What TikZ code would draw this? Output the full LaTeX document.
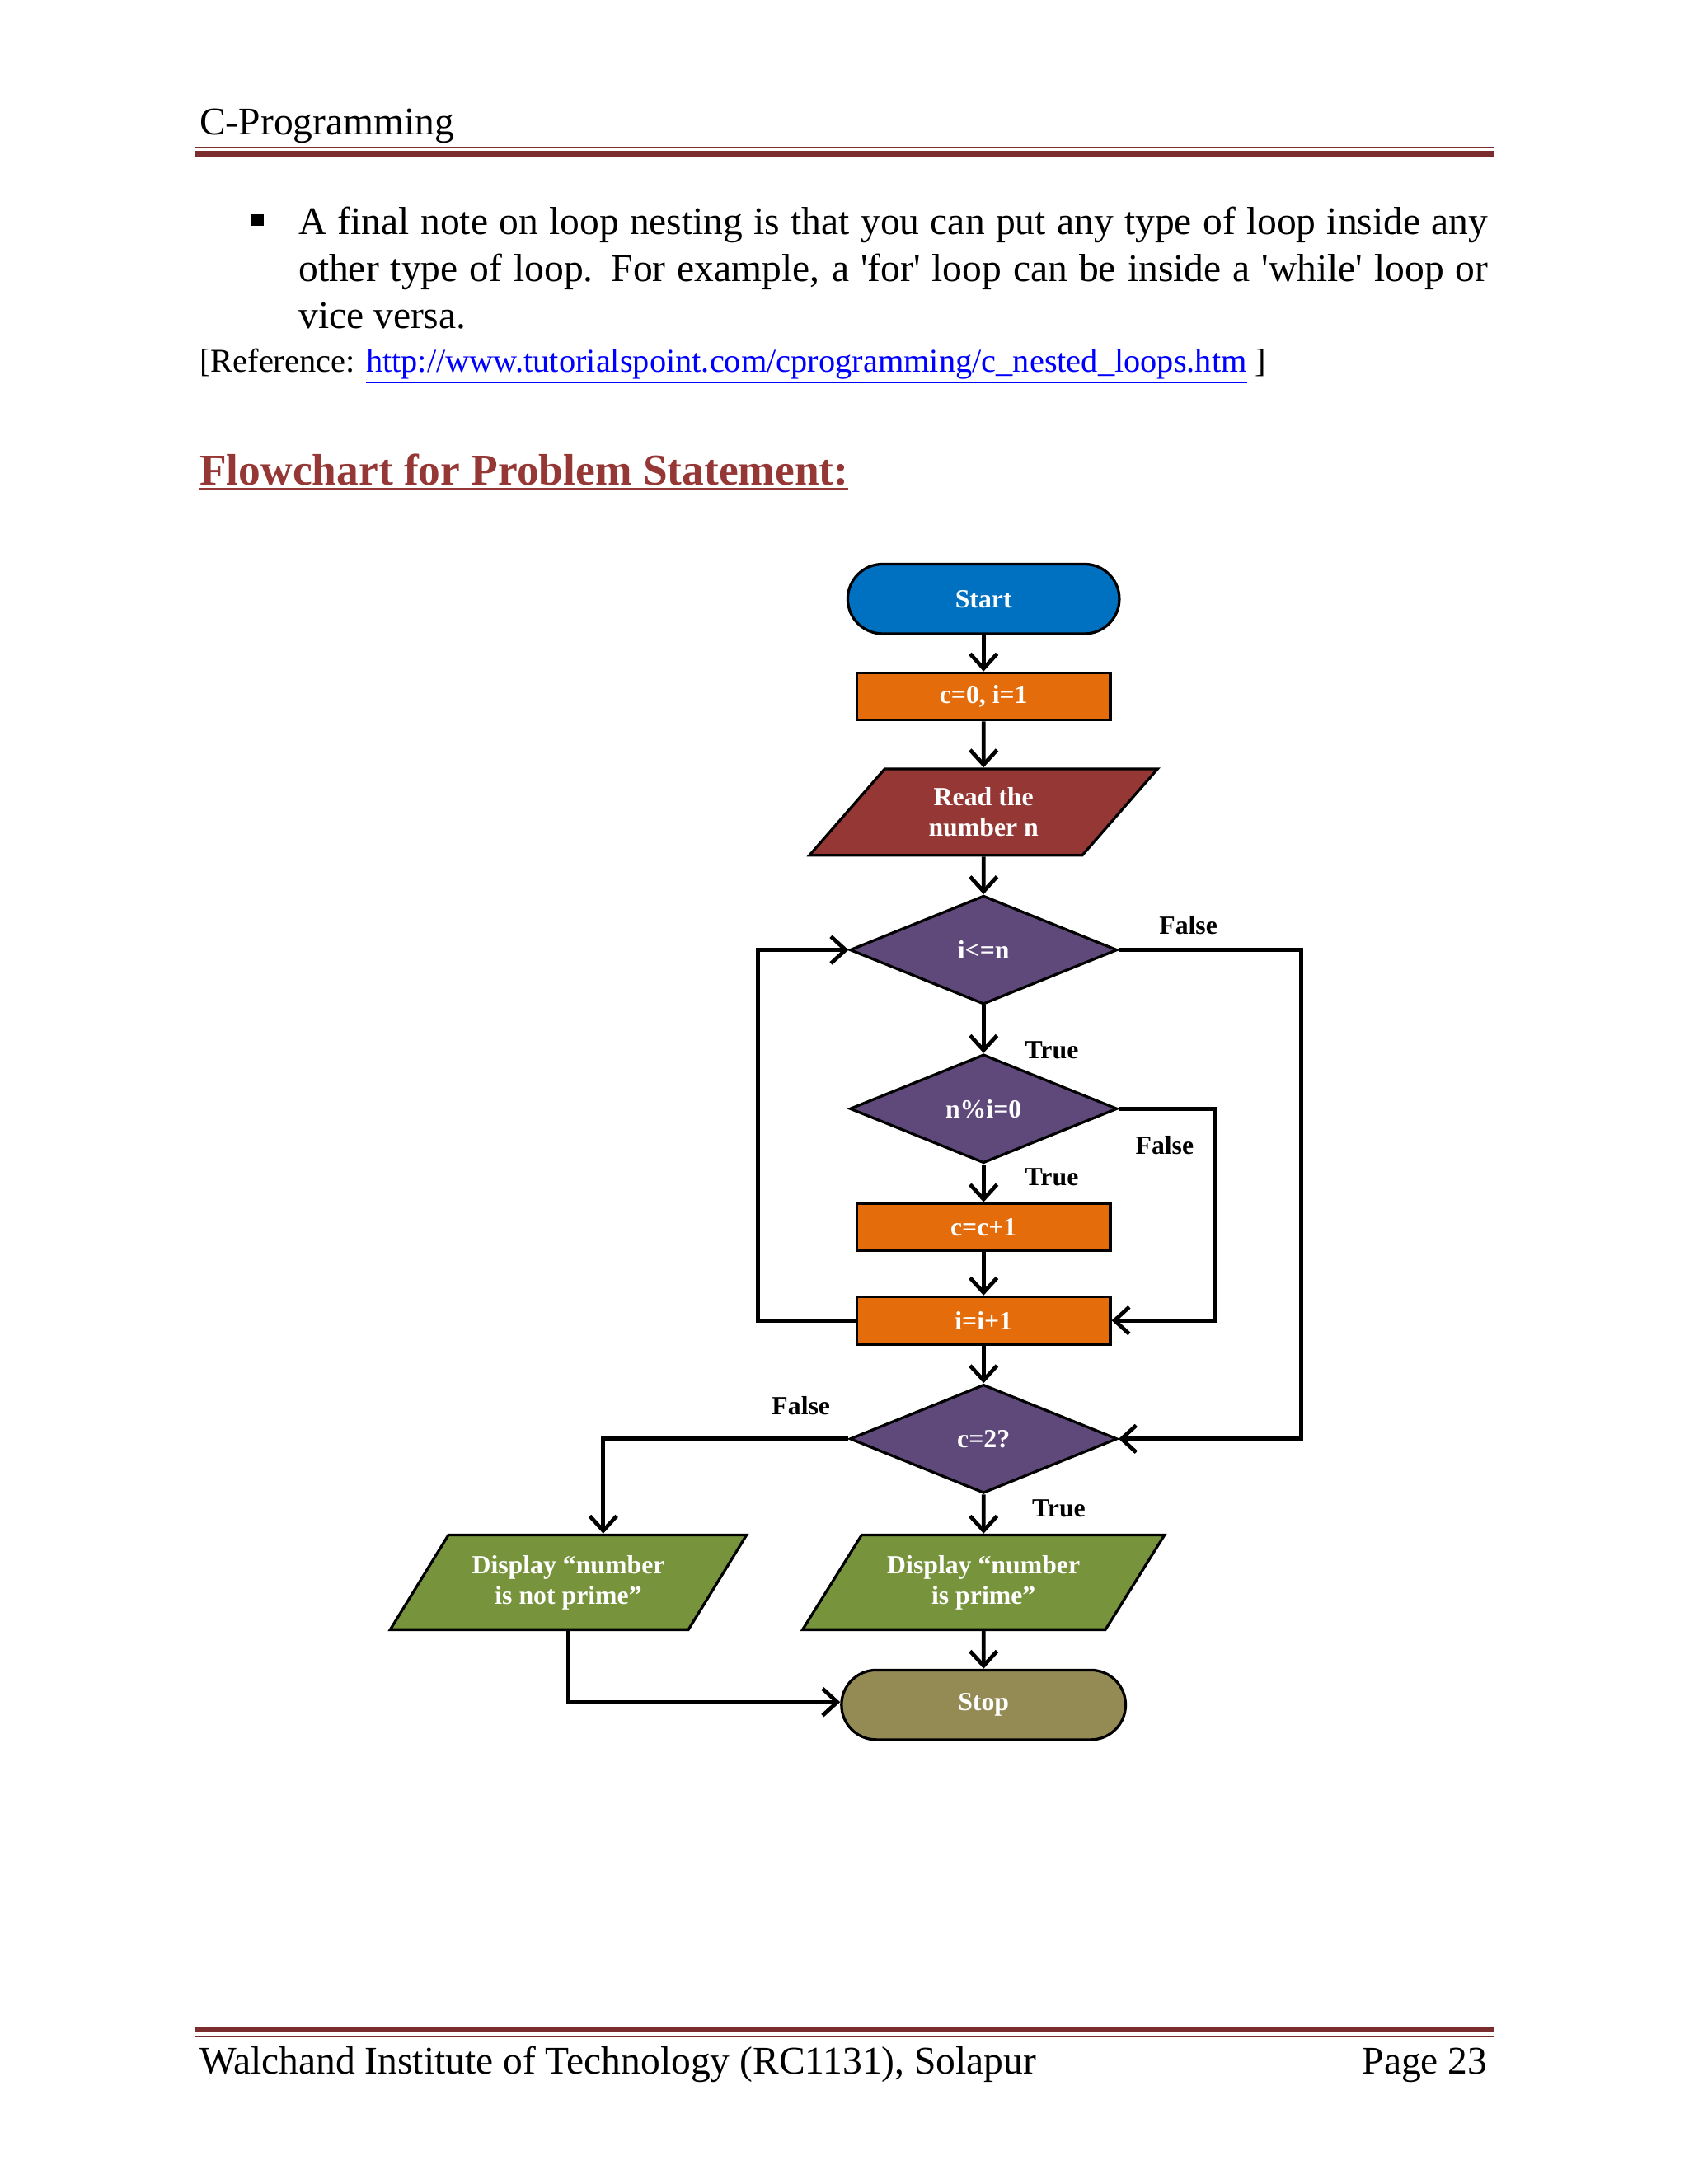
\documentclass[tikz,border=0pt]{standalone}
\usepackage{fontspec}
\setmainfont{Liberation Serif}
\usetikzlibrary{shapes.geometric,arrows.meta}
\definecolor{rulec}{HTML}{7B2C2C}
\definecolor{titlec}{HTML}{953735}
\definecolor{startc}{HTML}{0070C0}
\definecolor{orangec}{HTML}{E46C0A}
\definecolor{redc}{HTML}{953735}
\definecolor{purplec}{HTML}{5F497A}
\definecolor{greenc}{HTML}{77933C}
\definecolor{stopc}{HTML}{948A54}
\definecolor{linkc}{HTML}{0000FF}
\tikzset{
 x=0.02cm, y=-0.02cm,
 fc/.style={draw=black, line width=1.1pt, text=white, font=\fontsize{10.7}{12.5}\selectfont\bfseries, align=center, inner sep=1pt},
 term/.style={fc, rounded corners=0.5cm, minimum width=3.9cm, minimum height=1cm},
 proc/.style={fc, fill=orangec, minimum width=3.64cm, minimum height=0.68cm},
 dec/.style={fc, diamond, fill=purplec, minimum width=3.84cm, minimum height=1.56cm, inner sep=0pt},
 io/.style={fc, trapezium, trapezium stretches=true, trapezium left angle=51, trapezium right angle=129},
 con/.style={line width=1.6pt, -{Straight Barb[length=6pt,width=11pt,line width=1.6pt]}},
 lab/.style={font=\fontsize{10.7}{12}\selectfont\bfseries, text=black},
 body/.style={font=\fontsize{16}{19.3}\selectfont},
}
\begin{document}
\begin{tikzpicture}
\useasboundingbox (0,0) rectangle (1212,1568);
\fill[white] (0,0) rectangle (1212,1568);
% header
\node[body, anchor=base west, inner sep=0] (hdr) at (143,97) {C-Programming};
\draw[rulec, line width=0.8pt] (140,106) -- (1072,106);
\draw[rulec, line width=2.4pt] (140,110.5) -- (1072,110.5);
% bullet text
\node[anchor=center, inner sep=0] (bul) at (185,158) {\rule{5pt}{5pt}};
\node[body, anchor=north west, inner sep=0, text width=17.08cm, align=justify] (para) at (214,148)
 {A final note on loop nesting is that you can put any type of loop inside any other type of loop. For example, a \textquotesingle for\textquotesingle\ loop can be inside a \textquotesingle while\textquotesingle\ loop or vice versa.};
\node[anchor=base west, inner sep=0, font=\fontsize{13.6}{16}\selectfont] (ref) at (143,267)
 {[Reference: \textcolor{linkc}{\underline{http://www.tutorialspoint.com/cprogramming/c\_nested\_loops.htm}} ]};
\node[anchor=base west, inner sep=0, text=titlec, font=\fontsize{18}{22}\selectfont\bfseries] (title) at (143,348)
 {\underline{Flowchart for Problem Statement:}};
% flowchart
\node[term, fill=startc] (start) at (706,430) {Start};
\node[proc] (init) at (706,500) {c=0, i=1};
\node[io, fill=redc, minimum width=5.0cm, minimum height=1.24cm] (read) at (706,583) {Read the\\number n};
\node[dec] (d1) at (706,682) {i<=n};
\node[dec] (d2) at (706,796) {n\%i=0};
\node[proc] (inc) at (706,881) {c=c+1};
\node[proc] (iinc) at (706,948) {i=i+1};
\node[dec] (d3) at (706,1033) {c=2?};
\node[io, fill=greenc, minimum width=5.12cm, minimum height=1.36cm] (np) at (408,1136) {Display “number\\is not prime”};
\node[io, fill=greenc, minimum width=5.2cm, minimum height=1.36cm] (pr) at (706,1136) {Display “number\\is prime”};
\node[term, fill=stopc, minimum width=4.08cm] (stop) at (706,1224) {Stop};
\draw[con] (start) -- (init);
\draw[con] (init) -- (read);
\draw[con] (read) -- (d1);
\draw[con] (d1) -- (d2);
\draw[con] (d2) -- (inc);
\draw[con] (inc) -- (iinc);
\draw[con] (iinc) -- (d3);
\draw[con] (d3) -- (pr);
\draw[con] (pr) -- (stop);
\draw[con] (iinc.west) -- (544,948) -- (544,682) -- (d1.west);
\draw[con] (d1.east) -- (934,682) -- (934,1033) -- (d3.east);
\draw[con] (d2.east) -- (872,796) -- (872,948) -- (iinc.east);
\draw[con] (d3.west) -- (433,1033) -- (433,1101);
\draw[con] (408,1170) -- (408,1222) -- (stop.west |- 0,1222);
\node[lab] (l1) at (853,664) {False};
\node[lab] (l2) at (755,754) {True};
\node[lab] (l3) at (836,822) {False};
\node[lab] (l4) at (755,845) {True};
\node[lab] (l5) at (575,1009) {False};
\node[lab] (l6) at (760,1083) {True};
% footer
\draw[rulec, line width=2.4pt] (140,1457) -- (1072,1457);
\draw[rulec, line width=0.8pt] (140,1462) -- (1072,1462);
\node[body, anchor=base west, inner sep=0] (f1) at (143,1489) {Walchand Institute of Technology (RC1131), Solapur};
\node[body, anchor=base east, inner sep=0] (f2) at (1068,1489) {Page 23};
\end{tikzpicture}
\end{document}
